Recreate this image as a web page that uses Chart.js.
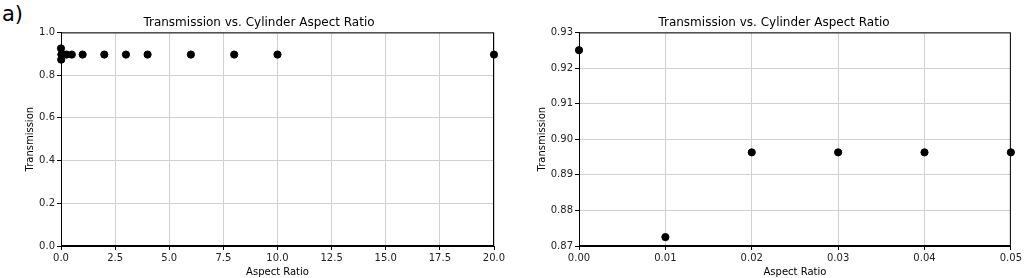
<!DOCTYPE html>
<html>
<head>
<meta charset="utf-8">
<script src="https://cdn.jsdelivr.net/npm/chart.js@4"></script>
<style>
  body { margin: 0; background: #fff; width: 1024px; height: 278px; overflow: hidden; position: relative; }
  .pane { position: absolute; top: 0; width: 512px; height: 278px; }
  #tag { position: absolute; left: 2px; top: 2px; font: 21px "DejaVu Sans", sans-serif; color: #000; }
</style>
</head>
<body>
<div id="tag">a)</div>
<div class="pane" style="left:0"><canvas id="full"></canvas></div>
<div class="pane" style="left:512px"><canvas id="zoomed"></canvas></div>
<script>
// aspect ratio sweep
const aspectRatios = [0, 0.01, 0.02, 0.03, 0.04, 0.05, 0.1, 0.25, 0.5, 1, 2, 3, 4, 6, 8, 10, 20];
const transmission = [0.925, 0.8725, 0.8963, 0.8963, 0.8963, 0.8963, 0.8963, 0.8963, 0.8963,
                      0.8963, 0.8963, 0.8963, 0.8963, 0.8963, 0.8963, 0.8963, 0.8963];

const fullXTicks = [0, 2.5, 5, 7.5, 10, 12.5, 15, 17.5, 20];
const fullYTicks = [0, 0.2, 0.4, 0.6, 0.8, 1.0];
const zoomXTicks = [0, 0.01, 0.02, 0.03, 0.04, 0.05];
const zoomYTicks = [0.87, 0.88, 0.89, 0.90, 0.91, 0.92, 0.93];

const FONT = '"DejaVu Sans", sans-serif';
Chart.defaults.font.family = FONT;
Chart.defaults.color = '#222';

// matplotlib style box around the plot area
const frame = {
  id: 'frame',
  afterDraw(chart) {
    const { ctx, chartArea: a } = chart;
    ctx.save();
    ctx.strokeStyle = '#000';
    ctx.lineWidth = 1;
    ctx.strokeRect(a.left + 0.5, a.top + 0.5, a.right - a.left - 1, a.bottom - a.top - 1);
    ctx.restore();
  }
};

function points(xs, ys, maxX) {
  const out = [];
  xs.forEach((x, i) => { if (x <= maxX) out.push({ x: x, y: ys[i] }); });
  return out;
}

function makeChart(id, data, xTicks, yTicks, xDec, yDec, leftPad, axisW, rightPad) {
  return new Chart(document.getElementById(id), {
    type: 'scatter',
    data: {
      datasets: [{
        data: data,
        backgroundColor: '#000',
        borderColor: '#000',
        pointRadius: 3.6,
        pointHoverRadius: 3.6,
        clip: false
      }]
    },
    options: {
      responsive: false,
      animation: false,
      layout: { padding: { left: leftPad, right: rightPad, top: 0, bottom: 0 } },
      plugins: {
        legend: { display: false },
        tooltip: { enabled: false },
        title: {
          display: true,
          text: 'Transmission vs. Cylinder Aspect Ratio',
          color: '#000',
          font: { size: 12, weight: 'normal' },
          padding: { top: 16, bottom: 2 }
        }
      },
      scales: {
        x: {
          type: 'linear',
          min: xTicks[0],
          max: xTicks[xTicks.length - 1],
          afterBuildTicks: (s) => { s.ticks = xTicks.map(v => ({ value: v })); },
          afterFit: (s) => { s.height = 32; },
          ticks: {
            font: { size: 10 },
            color: '#222',
            padding: 2,
            maxRotation: 0,
            callback: (v) => Number(v).toFixed(xDec)
          },
          grid: { color: '#d0d0d0', lineWidth: 1, tickLength: 4, tickColor: '#000' },
          border: { color: '#000' },
          title: { display: true, text: 'Aspect Ratio', color: '#000', font: { size: 10 }, padding: 0 }
        },
        y: {
          type: 'linear',
          min: yTicks[0],
          max: yTicks[yTicks.length - 1],
          afterBuildTicks: (s) => { s.ticks = yTicks.map(v => ({ value: v })); },
          afterFit: (s) => { s.width = axisW; },
          ticks: {
            font: { size: 10 },
            color: '#222',
            padding: 2,
            callback: (v) => Number(v).toFixed(yDec)
          },
          grid: { color: '#d0d0d0', lineWidth: 1, tickLength: 4, tickColor: '#000' },
          border: { color: '#000' },
          title: { display: true, text: 'Transmission', color: '#000', font: { size: 10 }, padding: 0 }
        }
      }
    },
    plugins: [frame]
  });
}

document.getElementById('full').width = 512;
document.getElementById('full').height = 278;
document.getElementById('zoomed').width = 512;
document.getElementById('zoomed').height = 278;

makeChart('full', points(aspectRatios, transmission, 20), fullXTicks, fullYTicks, 1, 1, 24, 37, 18);
makeChart('zoomed', points(aspectRatios, transmission, 0.05), zoomXTicks, zoomYTicks, 2, 2, 24, 43, 12);
</script>
</body>
</html>
